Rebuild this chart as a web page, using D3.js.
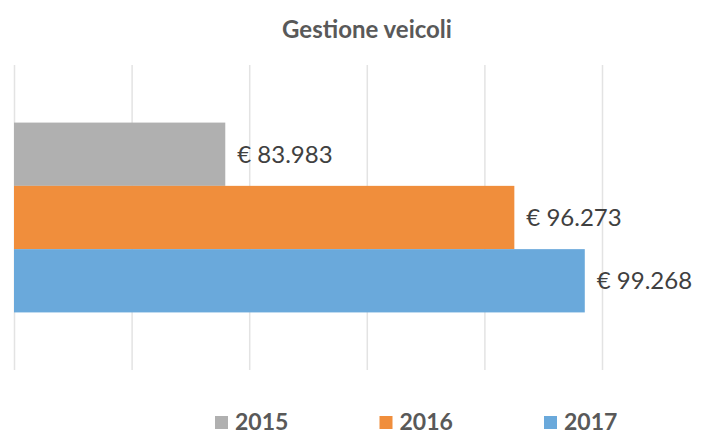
<!DOCTYPE html>
<html>
    <head>
        <title>Gestione veicoli - D3</title>
        <script src="https://d3js.org/d3.v7.min.js"></script>
    </head>

    <body>
        <div id="root"></div>
    </body>

    <style>
body {
    margin: 0;
    background: #fff;
}
svg {
    display: block;
    font-family: Lato, 'Open Sans', sans-serif;
}
    </style>

    <script>
        let years = ['2015', '2016', '2017'];
        let values = [83983, 96273, 99268];
        let colors = ['#b0b0b0', '#f08e3c', '#6aa9db'];
        let x_ticks = [75000, 80000, 85000, 90000, 95000, 100000];
        let title = 'Gestione veicoli';

        let render_chart = () => {
            let width = 708;
            let height = 435;

            let scale_x = d3.scaleLinear().domain([75000, 100000]).range([14, 602]);
            let scale_y = d3.scaleBand().domain(years).range([65, 370]).paddingInner(0).paddingOuter(0.91);
            let legend_x = d3.scalePoint().domain(years).range([215, 544]);

            let fmt = d3.formatLocale({ decimal: ',', thousands: '.', grouping: [3], currency: ['€ ', ''] }).format('$,.0f');

            let svg = d3.select('#root').html('')
                .append('svg')
                .attr('width', width)
                .attr('height', height);

            svg.append('text')
                .attr('x', 367)
                .attr('y', 38)
                .attr('text-anchor', 'middle')
                .attr('font-size', 24)
                .attr('font-weight', 'bold')
                .attr('fill', '#595959')
                .text(title);

            // vertical gridlines
            svg.append('g')
                .attr('transform', 'translate(0, 370)')
                .call(d3.axisBottom(scale_x).tickValues(x_ticks).tickSize(-305).tickFormat(''))
                .call(g => g.select('.domain').remove())
                .call(g => g.selectAll('.tick line').attr('stroke', '#e3e3e3').attr('stroke-width', 1.5));

            let data = years.map((y, i) => ({ year: y, value: values[i], color: colors[i] }));

            svg.append('g')
                .selectAll('rect')
                .data(data)
                .join('rect')
                .attr('x', scale_x(75000))
                .attr('y', d => scale_y(d.year))
                .attr('width', d => scale_x(d.value) - scale_x(75000))
                .attr('height', scale_y.bandwidth())
                .attr('fill', d => d.color);

            svg.append('g')
                .selectAll('text')
                .data(data)
                .join('text')
                .attr('x', d => scale_x(d.value) + 12)
                .attr('y', d => scale_y(d.year) + scale_y.bandwidth() / 2)
                .attr('dy', '0.35em')
                .attr('font-size', 24)
                .attr('fill', '#404040')
                .text(d => fmt(d.value));

            let legend = svg.append('g')
                .selectAll('g')
                .data(data)
                .join('g')
                .attr('transform', d => `translate(${legend_x(d.year)}, 422)`);
            legend.append('rect')
                .attr('x', 0)
                .attr('y', -6)
                .attr('width', 13)
                .attr('height', 13)
                .attr('fill', d => d.color);
            legend.append('text')
                .attr('x', 20)
                .attr('y', 0)
                .attr('dy', '0.35em')
                .attr('font-size', 23)
                .attr('font-weight', 'bold')
                .attr('fill', '#595959')
                .text(d => d.year);
        };

        render_chart();
    </script>
</html>
